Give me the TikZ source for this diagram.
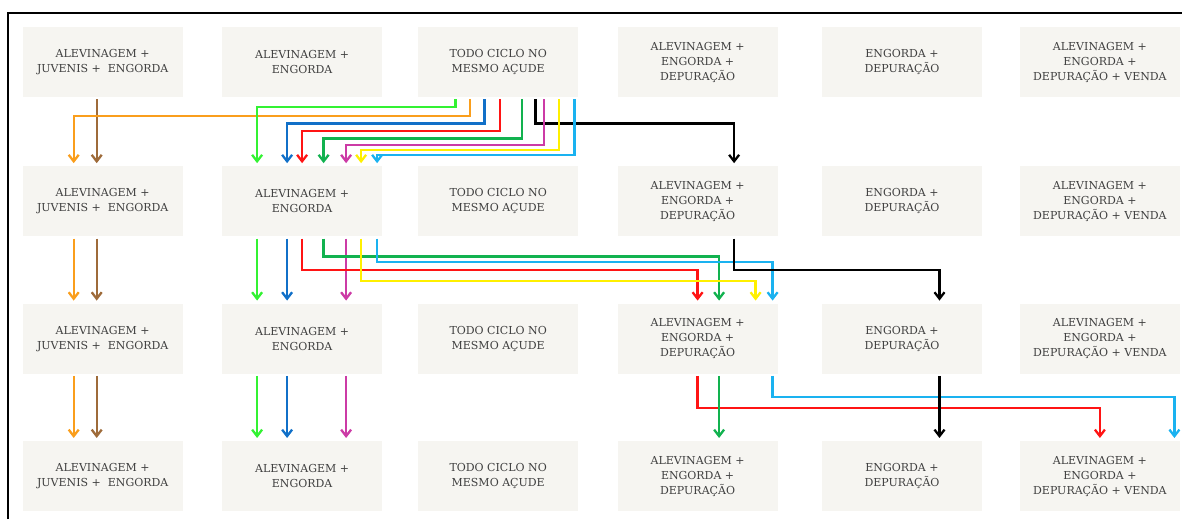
\documentclass[tikz,border=0pt]{standalone}
\usepackage{fontspec}
\setmainfont{DejaVu Serif}
\usepackage{xcolor}
\usepackage{tikz}
\usetikzlibrary{arrows.meta,positioning}
\definecolor{acbox}{HTML}{F6F5F1}
\definecolor{actext}{HTML}{404040}
\definecolor{acorange}{HTML}{FA9E1C}
\definecolor{acbrown}{HTML}{9E6B3A}
\definecolor{aclime}{HTML}{33F233}
\definecolor{acblue}{HTML}{1170C8}
\definecolor{acred}{HTML}{FF1414}
\definecolor{acgreen}{HTML}{12B24F}
\definecolor{acmagenta}{HTML}{CC3BA6}
\definecolor{acyellow}{HTML}{FFF000}
\definecolor{accyan}{HTML}{1AB2F0}

\begin{document}
\begin{tikzpicture}[
  x=1pt, y=1pt,
  node distance=67pt and 39pt,
  box/.style={fill=acbox, text=actext, align=center, minimum height=70pt, minimum width=160pt, inner sep=0pt, font=\fontsize{11pt}{15pt}\selectfont},
  arrow/.style={-{Straight Barb[length=6.5pt,width=10pt]}, line width=2.3pt, shorten <=2pt, shorten >=3pt}
]
\useasboundingbox (0,0) rectangle (1182,519);
\draw[line width=2pt] (8.3,0) |- (1182,506.3);
% row 1
\node[box] (n11) at (102.7,456.7) {ALEVINAGEM +\\JUVENIS + \ ENGORDA};
\node[box, right=39pt of n11] (n12) {ALEVINAGEM +\\ENGORDA};
\node[box, right=35.7pt of n12] (n13) {TODO CICLO NO\\MESMO AÇUDE};
\node[box, right=39pt of n13] (n14) {ALEVINAGEM +\\ENGORDA +\\DEPURAÇÃO};
\node[box, right=44pt of n14] (n15) {ENGORDA +\\DEPURAÇÃO};
\node[box, right=37.5pt of n15] (n16) {ALEVINAGEM +\\ENGORDA +\\DEPURAÇÃO + VENDA};
% row 2
\node[box, below=68.7pt of n11] (n21) {ALEVINAGEM +\\JUVENIS + \ ENGORDA};
\node[box, below=68.7pt of n12] (n22) {ALEVINAGEM +\\ENGORDA};
\node[box, below=68.7pt of n13] (n23) {TODO CICLO NO\\MESMO AÇUDE};
\node[box, below=68.7pt of n14] (n24) {ALEVINAGEM +\\ENGORDA +\\DEPURAÇÃO};
\node[box, below=68.7pt of n15] (n25) {ENGORDA +\\DEPURAÇÃO};
\node[box, below=68.7pt of n16] (n26) {ALEVINAGEM +\\ENGORDA +\\DEPURAÇÃO + VENDA};
% row 3
\node[box, below=of n21] (n31) {ALEVINAGEM +\\JUVENIS + \ ENGORDA};
\node[box, below=of n22] (n32) {ALEVINAGEM +\\ENGORDA};
\node[box, below=of n23] (n33) {TODO CICLO NO\\MESMO AÇUDE};
\node[box, below=of n24] (n34) {ALEVINAGEM +\\ENGORDA +\\DEPURAÇÃO};
\node[box, below=of n25] (n35) {ENGORDA +\\DEPURAÇÃO};
\node[box, below=of n26] (n36) {ALEVINAGEM +\\ENGORDA +\\DEPURAÇÃO + VENDA};
% row 4
\node[box, below=of n31] (n41) {ALEVINAGEM +\\JUVENIS + \ ENGORDA};
\node[box, below=of n32] (n42) {ALEVINAGEM +\\ENGORDA};
\node[box, below=of n33] (n43) {TODO CICLO NO\\MESMO AÇUDE};
\node[box, below=of n34] (n44) {ALEVINAGEM +\\ENGORDA +\\DEPURAÇÃO};
\node[box, below=of n35] (n45) {ENGORDA +\\DEPURAÇÃO};
\node[box, below=of n36] (n46) {ALEVINAGEM +\\ENGORDA +\\DEPURAÇÃO + VENDA};
% row 1 to row 2
\draw[arrow, acbrown] ([xshift=-6pt]n11.south) -- ([xshift=-6pt]n21.north);
\draw[arrow, acorange] ([xshift=-28pt]n13.south) -- ++(0,-18.2) -| ([xshift=-29pt]n21.north);
\draw[arrow, aclime] ([xshift=-42.7pt]n13.south) -- ++(0,-9.7) -| ([xshift=-45pt]n22.north);
\draw[arrow, acblue] ([xshift=-13.7pt]n13.south) -- ++(0,-26) -| ([xshift=-15pt]n22.north);
\draw[arrow, acred] ([xshift=2pt]n13.south) -- ++(0,-33.4) -| (n22.north);
\draw[arrow, acgreen] ([xshift=23.7pt]n13.south) -- ++(0,-41) -| ([xshift=21.5pt]n22.north);
\draw[arrow, black] ([xshift=37.3pt]n13.south) -- ++(0,-26) -| ([xshift=36.5pt]n24.north);
\draw[arrow, acmagenta] ([xshift=45.7pt]n13.south) -- ++(0,-47.7) -| ([xshift=44pt]n22.north);
\draw[arrow, acyellow] ([xshift=61pt]n13.south) -- ++(0,-52.5) -| ([xshift=59pt]n22.north);
\draw[arrow, accyan] ([xshift=76.3pt]n13.south) -- ++(0,-57.7) -| ([xshift=75pt]n22.north);
% row 2 to row 3
\draw[arrow, acorange] ([xshift=-29pt]n21.south) -- ([xshift=-29pt]n31.north);
\draw[arrow, acbrown] ([xshift=-6pt]n21.south) -- ([xshift=-6pt]n31.north);
\draw[arrow, aclime] ([xshift=-45pt]n22.south) -- ([xshift=-45pt]n32.north);
\draw[arrow, acblue] ([xshift=-15pt]n22.south) -- ([xshift=-15pt]n32.north);
\draw[arrow, acmagenta] ([xshift=44pt]n22.south) -- ([xshift=44pt]n32.north);
\draw[arrow, acgreen] ([xshift=21.5pt]n22.south) -- ++(0,-20) -| ([xshift=21.5pt]n34.north);
\draw[arrow, accyan] ([xshift=75pt]n22.south) -- ++(0,-25.7) -| ([xshift=75pt]n34.north);
\draw[arrow, acred] (n22.south) -- ++(0,-33.3) -| (n34.north);
\draw[arrow, acyellow] ([xshift=59pt]n22.south) -- ++(0,-44.7) -| ([xshift=58pt]n34.north);
\draw[arrow, black] ([xshift=36.5pt]n24.south) -- ++(0,-33.3) -| ([xshift=37.5pt]n35.north);
% row 3 to row 4
\draw[arrow, acorange] ([xshift=-29pt]n31.south) -- ([xshift=-29pt]n41.north);
\draw[arrow, acbrown] ([xshift=-6pt]n31.south) -- ([xshift=-6pt]n41.north);
\draw[arrow, aclime] ([xshift=-45pt]n32.south) -- ([xshift=-45pt]n42.north);
\draw[arrow, acblue] ([xshift=-15pt]n32.south) -- ([xshift=-15pt]n42.north);
\draw[arrow, acmagenta] ([xshift=44pt]n32.south) -- ([xshift=44pt]n42.north);
\draw[arrow, accyan] ([xshift=75pt]n34.south) -- ++(0,-23) -| ([xshift=74.5pt]n46.north);
\draw[arrow, acred] (n34.south) -- ++(0,-34) -| (n46.north);
\draw[arrow, acgreen] ([xshift=21.5pt]n34.south) -- ([xshift=21.5pt]n44.north);
\draw[arrow, black] ([xshift=37.5pt]n35.south) -- ([xshift=37.5pt]n45.north);
\end{tikzpicture}
\end{document}
